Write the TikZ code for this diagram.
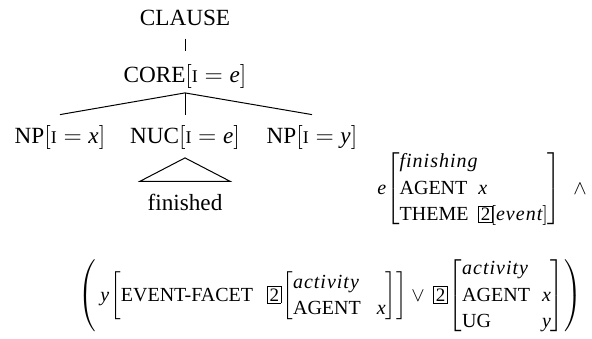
\documentclass[tikz,border=0pt]{standalone}
\usepackage{fontspec}
\setmainfont{Liberation Serif}
\newcommand{\smI}{\mbox{\fontsize{9}{9}\selectfont I}}
\newcommand{\vr}[1]{\mbox{\itshape #1}}
\newcommand{\vw}[1]{\mbox{\itshape\addfontfeature{LetterSpace=5}#1}}
\newcommand{\tg}[1]{\mbox{\fboxsep=0.8pt\fbox{\fontsize{9.5}{9.5}\selectfont #1}}}
\newcommand{\ft}[1]{$[\smI=\vr{#1}]$}
\tikzset{
  lbl/.style={anchor=base, inner sep=0pt, font=\fontsize{11.6}{14}\selectfont},
  avm/.style={anchor=west, inner sep=0pt, font=\fontsize{10}{12}\selectfont},
  branch/.style={draw=black, line width=0.5pt}
}
\begin{document}
\begin{tikzpicture}[x=0.5pt,y=-0.5pt]
\useasboundingbox (0,0) rectangle (592,338);
\fill[white] (0,0) rectangle (592,338);
\node[lbl] (clause) at (185,25) {CLAUSE};
\node[lbl] (core) at (185,82) {CORE\ft{e}};
\node[lbl] (npx) at (60,143) {NP\ft{x}};
\node[lbl] (nuc) at (185,143) {NUC\ft{e}};
\node[lbl] (npy) at (312,143) {NP\ft{y}};
\node[lbl] (fin) at (185,210) {finished};
\draw[branch] ([yshift=-6.5pt]clause.south) -- ([yshift=6.5pt]core.north);
\draw[branch] ([yshift=-2.25pt]core.south) -- ([yshift=5pt]npx.north);
\draw[branch] ([yshift=-2.25pt]core.south) -- ([yshift=5pt]nuc.north);
\draw[branch] ([yshift=-2.25pt]core.south) -- ([yshift=5pt]npy.north);
\draw[branch] ([yshift=-4.25pt]nuc.south) -- ([xshift=-22.5pt,yshift=6pt]fin.north)
  -- ([xshift=22.5pt,yshift=6pt]fin.north) -- cycle;
\node[avm] (avmA) at (377,189) {$\renewcommand{\arraystretch}{1.1}
  \vr{e}\mkern-3mu\left[\begin{array}{@{}l@{\hspace{5pt}}l@{}}
    \multicolumn{2}{@{}l@{}}{\vw{finishing}}\\
    \mbox{AGENT} & \vr{x}\\
    \mbox{THEME} & \tg{2}\mkern-2mu[\vw{event}]
  \end{array}\right]\mkern8mu\wedge$};
\node[avm] (avmB) at (78,296) {$\renewcommand{\arraystretch}{1.1}
  \left(\mkern4mu\vr{y}\mkern-2mu\left[\mbox{EVENT-FACET}\hspace{7pt}\tg{2}\mkern-2mu\left[\begin{array}{@{}l@{\hspace{8pt}}l@{}}
    \multicolumn{2}{@{}l@{}}{\vw{activity}}\\
    \mbox{AGENT} & \vr{x}
  \end{array}\right]\right]\vee\mkern4mu\tg{2}\mkern-2mu\left[\begin{array}{@{}l@{\hspace{6pt}}l@{}}
    \multicolumn{2}{@{}l@{}}{\vw{activity}}\\
    \mbox{AGENT} & \vr{x}\\
    \mbox{UG} & \vr{y}
  \end{array}\right]\right)$};
\end{tikzpicture}
\end{document}
